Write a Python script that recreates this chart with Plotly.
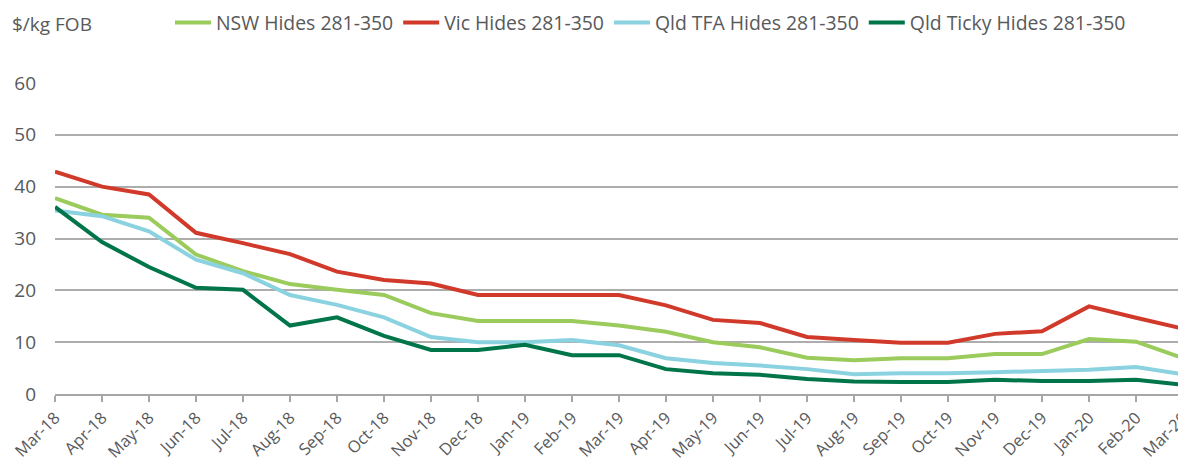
import plotly.graph_objects as go

months = ["Mar-18", "Apr-18", "May-18", "Jun-18", "Jul-18", "Aug-18", "Sep-18", "Oct-18",
          "Nov-18", "Dec-18", "Jan-19", "Feb-19", "Mar-19", "Apr-19", "May-19", "Jun-19",
          "Jul-19", "Aug-19", "Sep-19", "Oct-19", "Nov-19", "Dec-19", "Jan-20", "Feb-20", "Mar-20"]

nsw = [37.8, 34.6, 34.0, 26.9, 23.7, 21.2, 20.1, 19.1, 15.6, 14.1, 14.1, 14.1, 13.2, 12.0,
       10.0, 9.0, 7.0, 6.5, 6.9, 6.9, 7.7, 7.7, 10.6, 10.1, 6.9]
vic = [42.9, 40.0, 38.5, 31.1, 29.1, 27.0, 23.6, 22.0, 21.3, 19.1, 19.1, 19.1, 19.1, 17.1,
       14.3, 13.7, 11.0, 10.4, 9.9, 9.9, 11.6, 12.1, 16.9, 14.7, 12.6]
tfa = [35.4, 34.3, 31.4, 25.9, 23.3, 19.1, 17.2, 14.8, 11.0, 10.0, 10.0, 10.4, 9.4, 6.9,
       6.0, 5.5, 4.8, 3.8, 4.0, 4.0, 4.2, 4.4, 4.7, 5.2, 3.8]
ticky = [36.1, 29.3, 24.5, 20.5, 20.1, 13.2, 14.8, 11.2, 8.5, 8.5, 9.5, 7.5, 7.5, 4.8,
         4.0, 3.7, 2.9, 2.4, 2.3, 2.3, 2.75, 2.5, 2.5, 2.75, 1.8]

series = [
    ("NSW Hides 281-350", nsw, "#9BCB5C"),
    ("Vic Hides 281-350", vic, "#D13A2A"),
    ("Qld TFA Hides 281-350", tfa, "#8AD2E0"),
    ("Qld Ticky Hides 281-350", ticky, "#00754A"),
]

FONT = "Open Sans"
TXT = "#58595B"

# the page body adds an 8px margin; the figure is sized to fill the rest
OFF = 8
W, H = 1186 - OFF, 466 - OFF
PL, PR, PT, PB = 55, 1183, 83, 394   # plot area in page pixels

fig = go.Figure()
for name, vals, col in series:
    fig.add_trace(go.Scatter(x=months, y=vals, name=name, mode="lines",
                             line=dict(color=col, width=4)))

pw, ph = PR - PL, PB - PT
fig.update_layout(
    width=W, height=H,
    margin=dict(l=PL - OFF, r=1186 - PR, t=PT - OFF, b=466 - PB, autoexpand=False),
    paper_bgcolor="white", plot_bgcolor="white",
    font=dict(family=FONT, size=17, color=TXT),
    showlegend=True,
    legend=dict(orientation="h", x=(170 - PL) / pw, y=(PB - 23) / ph, yref="paper",
                xanchor="left", yanchor="middle", font=dict(size=19.4, color=TXT),
                bgcolor="rgba(0,0,0,0)", itemwidth=36, tracegroupgap=0),
    annotations=[dict(text="$/kg FOB", x=(10 - PL) / pw, y=(PB - 24) / ph,
                      xref="paper", yref="paper", showarrow=False,
                      xanchor="left", yanchor="middle",
                      font=dict(size=19, color=TXT))],
)

fig.update_xaxes(type="category", range=[0, 24], tickangle=-45, showgrid=False,
                 showline=True, linecolor="#A6A6A6", linewidth=1.5,
                 ticks="outside", ticklen=6, tickcolor="#A6A6A6", tickwidth=1.5,
                 automargin=False, tickfont=dict(size=16.5, color=TXT))
fig.update_yaxes(range=[0, 60], dtick=10, showgrid=True, gridcolor="#ADADAD", gridwidth=1.5,
                 zeroline=False, showline=False, ticks="", ticklabelstandoff=18,
                 automargin=False, tickfont=dict(size=19, color=TXT))

fig.write_html("out.html")
